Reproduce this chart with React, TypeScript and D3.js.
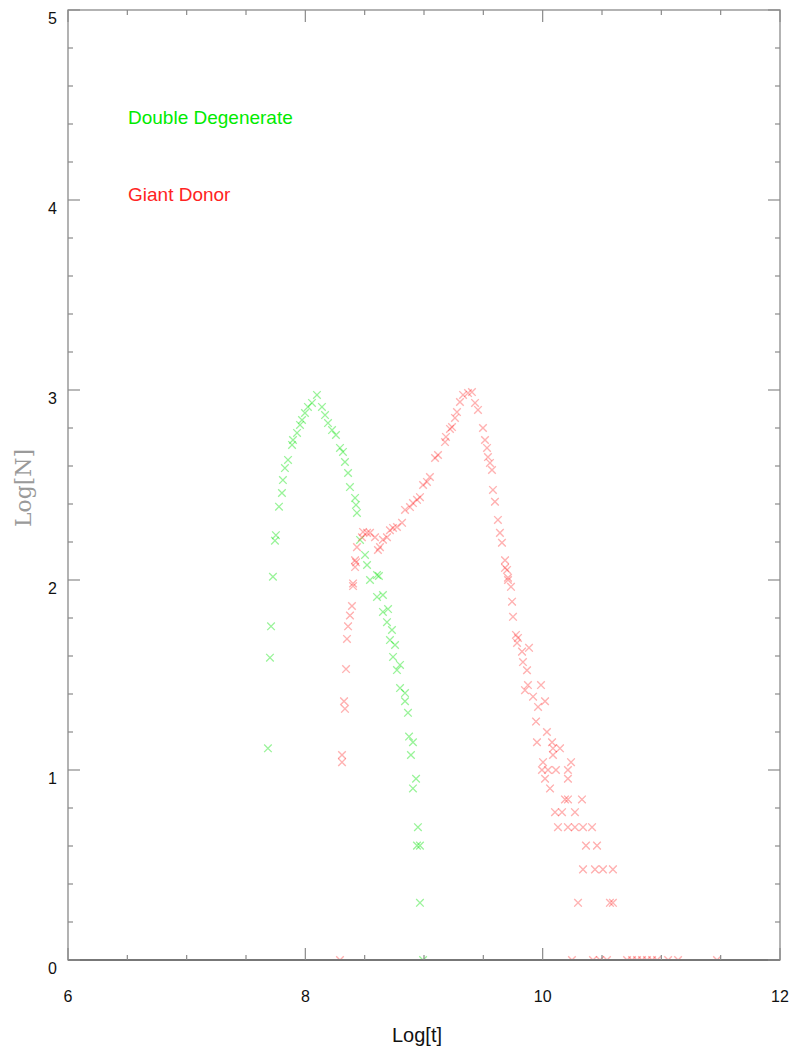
import React from "react";
import * as d3 from "d3";

// Double degenerate channel: Log[t] and Log[N] of each binned count
const ddLogT = [
  7.685, 7.702, 7.711, 7.727, 7.744, 7.752, 7.778, 7.803, 7.811, 7.828, 7.854, 7.888, 7.896,
  7.93, 7.955, 7.972, 7.997, 8.022, 8.056, 8.098, 8.14, 8.166, 8.191, 8.225, 8.258, 8.292,
  8.317, 8.334, 8.36, 8.376, 8.419, 8.427, 8.435, 8.461, 8.503, 8.52, 8.545, 8.604, 8.62,
  8.604, 8.654, 8.654, 8.697, 8.688, 8.73, 8.713, 8.756, 8.739, 8.798, 8.772, 8.798, 8.84,
  8.84, 8.865, 8.874, 8.907, 8.89, 8.933, 8.907, 8.949, 8.941, 8.966, 8.966, 8.992,
];
const ddLogN = [
  1.114, 1.591, 1.756, 2.017, 2.207, 2.236, 2.386, 2.458, 2.526, 2.589, 2.632, 2.711, 2.737,
  2.774, 2.816, 2.842, 2.879, 2.911, 2.932, 2.974, 2.911, 2.868, 2.826, 2.789, 2.763, 2.695,
  2.674, 2.621, 2.563, 2.489, 2.432, 2.395, 2.353, 2.211, 2.132, 2.079, 2.0, 2.026, 2.021,
  1.911, 1.921, 1.832, 1.847, 1.778, 1.737, 1.684, 1.658, 1.595, 1.553, 1.526, 1.431, 1.405,
  1.362, 1.301, 1.176, 1.146, 1.079, 0.954, 0.903, 0.699, 0.602, 0.602, 0.301, 0,
];

// Giant donor channel
const gdLogT = [
  8.292, 8.309, 8.309, 8.334, 8.326, 8.343, 8.351, 8.36, 8.376, 8.393, 8.402, 8.402, 8.419,
  8.427, 8.419, 8.435, 8.477, 8.486, 8.52, 8.545, 8.587, 8.612, 8.629, 8.654, 8.688, 8.713,
  8.739, 8.772, 8.815, 8.84, 8.882, 8.907, 8.941, 8.966, 8.992, 9.025, 9.05, 9.093, 9.118,
  9.177, 9.185, 9.219, 9.236, 9.261, 9.278, 9.303, 9.329, 9.371, 9.404, 9.43, 9.455, 9.497,
  9.514, 9.531, 9.539, 9.556, 9.573, 9.581, 9.598, 9.623, 9.64, 9.657, 9.683, 9.683, 9.7,
  9.708, 9.708, 9.733, 9.742, 9.75, 9.775, 9.792, 9.784, 9.826, 9.885, 9.834, 9.868, 9.876,
  9.851, 9.986, 9.919, 9.961, 10.02, 9.944, 10.036, 9.952, 10.079, 10.087, 10.146, 10.087,
  10.003, 10.239, 9.994, 10.045, 10.112, 10.213, 10.02, 10.213, 10.062, 10.188, 10.213,
  10.331, 10.104, 10.163, 10.272, 10.129, 10.213, 10.272, 10.34, 10.416, 10.365, 10.458,
  10.34, 10.441, 10.508, 10.592, 10.298, 10.567, 10.592, 10.247, 10.424, 10.483, 10.542,
  10.711, 10.753, 10.795, 10.837, 10.879, 10.922, 10.964, 11.057, 11.141, 11.469,
];
const gdLogN = [
  0, 1.041, 1.079, 1.322, 1.362, 1.531, 1.69, 1.756, 1.813, 1.863, 1.968, 1.982, 2.068,
  2.093, 2.104, 2.173, 2.225, 2.253, 2.248, 2.248, 2.225, 2.158, 2.173, 2.212, 2.225, 2.262,
  2.274, 2.279, 2.301, 2.369, 2.384, 2.405, 2.422, 2.436, 2.5, 2.516, 2.542, 2.642, 2.658,
  2.726, 2.753, 2.795, 2.805, 2.853, 2.884, 2.937, 2.974, 2.984, 2.989, 2.932, 2.895, 2.8,
  2.737, 2.695, 2.647, 2.616, 2.579, 2.474, 2.412, 2.316, 2.248, 2.196, 2.104, 2.064, 2.053,
  2.012, 2.0, 1.964, 1.886, 1.806, 1.711, 1.695, 1.669, 1.623, 1.643, 1.568, 1.525, 1.447,
  1.42, 1.447, 1.386, 1.332, 1.362, 1.255, 1.2, 1.146, 1.146, 1.114, 1.114, 1.079, 1.041,
  1.041, 1.0, 1.0, 1.0, 1.0, 0.954, 0.954, 0.903, 0.845, 0.845, 0.845, 0.778, 0.778, 0.778,
  0.699, 0.699, 0.699, 0.699, 0.699, 0.602, 0.602, 0.477, 0.477, 0.477, 0.477, 0.301, 0.301,
  0.301, 0, 0, 0, 0, 0, 0, 0, 0, 0, 0, 0, 0, 0, 0,
];

const xTickLabels = [6, 8, 10, 12];
const yTickLabels = [0, 1, 2, 3, 4, 5];

const W = 804;
const H = 1062;
const plot = { left: 68, right: 780, top: 10, bottom: 960 };

export default function App() {
  const x = d3.scaleLinear().domain([6, 12]).range([plot.left, plot.right]);
  const y = d3.scaleLinear().domain([0, 5]).range([plot.bottom, plot.top]);

  const axisColor = "#8a8a8a";
  const xMinor = d3.range(6, 12.001, 0.5);
  const yMinor = d3.range(0, 5.001, 0.2);
  const isMajorX = (v: number) => Math.abs(v / 2 - Math.round(v / 2)) < 1e-6;
  const isMajorY = (v: number) => Math.abs(v - Math.round(v)) < 1e-6;

  const cross = (cx: number, cy: number, key: string, color: string, op: number) => {
    const s = 3.8;
    return (
      <path
        key={key}
        d={`M${cx - s},${cy - s}L${cx + s},${cy + s}M${cx - s},${cy + s}L${cx + s},${cy - s}`}
        stroke={color}
        strokeOpacity={op}
        strokeWidth={1.3}
        fill="none"
      />
    );
  };

  const sans = "'Liberation Sans', Arial, Helvetica, sans-serif";

  return (
    <svg
      width={W}
      height={H}
      style={{ position: "absolute", left: 0, top: 0, background: "#fff" }}
    >
      <defs>
        <clipPath id="plotClip">
          <rect x={plot.left} y={plot.top} width={plot.right - plot.left} height={plot.bottom - plot.top} />
        </clipPath>
        <filter id="soft" x="-5%" y="-5%" width="110%" height="110%">
          <feGaussianBlur stdDeviation="0.45" />
        </filter>
      </defs>

      {/* markers */}
      <g clipPath="url(#plotClip)">
        <g filter="url(#soft)">
          {ddLogT.map((t, i) => cross(x(t), y(ddLogN[i]), `dd${i}`, "rgb(0,225,0)", 0.4))}
          {gdLogT.map((t, i) => cross(x(t), y(gdLogN[i]), `gd${i}`, "rgb(255,20,20)", 0.34))}
        </g>
      </g>

      {/* frame */}
      <rect
        x={plot.left}
        y={plot.top}
        width={plot.right - plot.left}
        height={plot.bottom - plot.top}
        fill="none"
        stroke={axisColor}
        strokeWidth={1.3}
      />
      <line x1={plot.left} x2={plot.right} y1={plot.bottom} y2={plot.bottom} stroke="#777" strokeWidth={2} />

      {/* x ticks on bottom and top */}
      {xMinor.map((v, i) => {
        const len = isMajorX(v) ? 12 : 5;
        return (
          <g key={`xt${i}`} stroke={axisColor} strokeWidth={1.2}>
            <line x1={x(v)} x2={x(v)} y1={plot.bottom} y2={plot.bottom - len} />
            <line x1={x(v)} x2={x(v)} y1={plot.top} y2={plot.top + len} />
          </g>
        );
      })}

      {/* y ticks on left and right */}
      {yMinor.map((v, i) => {
        const len = isMajorY(v) ? 12 : 5;
        return (
          <g key={`yt${i}`} stroke={axisColor} strokeWidth={1.2}>
            <line x1={plot.left} x2={plot.left + len} y1={y(v)} y2={y(v)} />
            <line x1={plot.right} x2={plot.right - len} y1={y(v)} y2={y(v)} />
          </g>
        );
      })}

      {/* tick labels */}
      {xTickLabels.map((v) => (
        <text key={`xl${v}`} x={x(v)} y={1002} textAnchor="middle" fontFamily={sans} fontSize={16} fill="#111">
          {v}
        </text>
      ))}
      {yTickLabels.map((v) => (
        <text key={`yl${v}`} x={57} y={y(v) + 14} textAnchor="end" fontFamily={sans} fontSize={16} fill="#111">
          {v}
        </text>
      ))}

      {/* axis titles */}
      <text x={417} y={1042} textAnchor="middle" fontFamily={sans} fontSize={20} fill="#111" textLength={50} lengthAdjust="spacingAndGlyphs">
        Log[t]
      </text>
      <text
        transform={`translate(31,${488}) rotate(-90)`}
        textAnchor="middle"
        fontFamily="'DejaVu Serif', 'Liberation Serif', serif"
        fontSize={22}
        fill="#9a9a9a"
        textLength={78}
        lengthAdjust="spacingAndGlyphs"
      >
        Log[N]
      </text>

      {/* legend labels */}
      <text x={128} y={124} fontFamily={sans} fontSize={19} fill="rgb(0,235,0)">
        Double Degenerate
      </text>
      <text x={128} y={201} fontFamily={sans} fontSize={19} fill="rgb(255,35,35)">
        Giant Donor
      </text>
    </svg>
  );
}
